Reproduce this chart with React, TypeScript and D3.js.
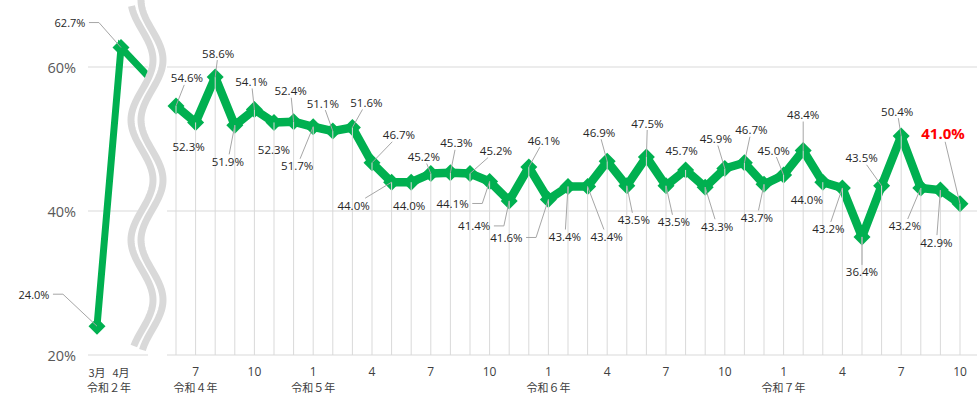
import * as d3 from 'd3';

// 令和２年 (left part, before the break)
const leftCats = ['3月', '4月'];
const leftVals = [24.0, 62.7];
const leftEra = '令和２年';

// 令和４年６月 〜 令和７年１０月
const rightCats = [
  'R4-6', 'R4-7', 'R4-8', 'R4-9', 'R4-10', 'R4-11', 'R4-12',
  'R5-1', 'R5-2', 'R5-3', 'R5-4', 'R5-5', 'R5-6', 'R5-7', 'R5-8', 'R5-9', 'R5-10', 'R5-11', 'R5-12',
  'R6-1', 'R6-2', 'R6-3', 'R6-4', 'R6-5', 'R6-6', 'R6-7', 'R6-8', 'R6-9', 'R6-10', 'R6-11', 'R6-12',
  'R7-1', 'R7-2', 'R7-3', 'R7-4', 'R7-5', 'R7-6', 'R7-7', 'R7-8', 'R7-9', 'R7-10',
];
const rightVals = [
  54.6, 52.3, 58.6, 51.9, 54.1, 52.3, 52.4,
  51.7, 51.1, 51.6, 46.7, 44.0, 44.0, 45.2, 45.3, 45.2, 44.1, 41.4, 46.1,
  41.6, 43.4, 43.4, 46.9, 43.5, 47.5, 43.5, 45.7, 43.3, 45.9, 46.7, 43.7,
  45.0, 48.4, 44.0, 43.2, 36.4, 43.5, 50.4, 43.2, 42.9, 41.0,
];
const eraNames: Record<string, string> = { R4: '令和４年', R5: '令和５年', R6: '令和６年', R7: '令和７年' };
const yTicks = [20, 40, 60];

// label placement: [dx, dy, leader] (0 = none, 1 = straight, 2 = elbow)
const rightLabelPos: [number, number, number][] = [
  [11, -28, 1], [-7, 24, 0], [3, -24, 1], [-7, 36, 1], [-3, -28, 1], [0, 27, 0], [-3, -31, 1],
  [-16, 39, 1], [-10, -28, 1], [14, -25, 1], [27, -28, 1], [-38, 23, 1], [-2, 23, 0], [-7, -17, 1],
  [6, -30, 1], [26, -23, 1], [-37, 22, 2], [-35, 25, 2], [15, -27, 1],
  [-42, 38, 2], [-3, 50, 1], [19, 50, 1], [-8, -29, 1], [7, 34, 1], [1, -34, 1], [8, 36, 1],
  [-4, -19, 0], [12, 39, 1], [-9, -30, 1], [7, -33, 1], [-7, 33, 1],
  [-10, -25, 1], [0, -36, 1], [-16, 17, 0], [-14, 41, 1], [0, 35, 1], [-20, -28, 1],
  [-4, -25, 1], [-16, 38, 1], [-4, 52, 1], [-17, -71, 1],
];
const leftLabelPos: [number, number, number][] = [[-63, -32, 2], [-51, -25, 2]];

const W = 977;
const H = 395;
const GREEN = '#00b050';
const GRID = '#d9d9d9';
const LEADER = '#a6a6a6';
const FONT = '"Open Sans", "Noto Sans", sans-serif';
const JP = '"Noto Sans CJK JP", "Noto Sans", sans-serif';

const y = d3.scaleLinear().domain([20, 60]).range([355, 67]);
const xl = d3.scalePoint<string>().domain(leftCats).range([97, 121]);
const xr = d3.scalePoint<string>().domain(rightCats).range([176, 960]);

const waveX = (yy: number, off: number) => 142 + off - 11 * Math.cos((2 * Math.PI * yy) / 120);

function leader(px: number, py: number, cx: number, cy: number, hw: number, hh: number, kind: number) {
  if (kind === 0) return null;
  if (kind === 2) {
    const sx = cx + hw + 3;
    return `M${sx},${cy}H${sx + 10}L${px},${py}`;
  }
  const dx = px - cx;
  const dy = py - cy;
  const tx = dx === 0 ? Infinity : (hw + 2) / Math.abs(dx);
  const ty = dy === 0 ? Infinity : (hh + 2) / Math.abs(dy);
  const t = Math.min(tx, ty);
  if (t >= 1) return null;
  return `M${cx + dx * t},${cy + dy * t}L${px},${py}`;
}

const diamond = (cx: number, cy: number, r: number) =>
  `M${cx},${cy - r}L${cx + r},${cy}L${cx},${cy + r}L${cx - r},${cy}Z`;

export default function App() {
  const line = d3.line<[number, number]>().x((d) => d[0]).y((d) => d[1]).curve(d3.curveLinear);

  const leftPts: [number, number][] = leftCats.map((c, i) => [xl(c)!, y(leftVals[i])]);
  const rightPts: [number, number][] = rightCats.map((c, i) => [xr(c)!, y(rightVals[i])]);
  // the left series runs on toward the right part and disappears behind the break
  const leftRun: [number, number][] = [...leftPts, rightPts[0]];

  const ys = d3.range(0, 351, 2);
  const wave = (off: number, y0: number, y1: number) =>
    line(ys.filter((v) => v >= y0 && v <= y1).map((v) => [waveX(v, off), v] as [number, number]))!;
  const band =
    line(ys.map((v) => [waveX(v, 0), v] as [number, number]))! +
    'L' +
    ys
      .slice()
      .reverse()
      .map((v) => `${waveX(v, 10)},${v}`)
      .join('L') +
    'Z';
  // everything left of the first wave
  const leftArea =
    'M0,0L' + ys.map((v) => `${waveX(v, 0) - 2},${v}`).join('L') + `L${waveX(350, 0) - 2},${H}L0,${H}Z`;

  // month ticks: 1, 4, 7, 10 ; era label under the first tick of each year
  const seenEra = new Set<string>();
  const ticks = rightCats
    .map((c) => {
      const [era, m] = c.split('-');
      return { c, era, m: +m };
    })
    .filter((d) => d.m % 3 === 1)
    .map((d) => {
      const showEra = !seenEra.has(d.era);
      seenEra.add(d.era);
      return { ...d, showEra };
    });

  const labelW = (s: string, size: number) => s.length * size * 0.29;

  return (
    <svg
      width={W}
      height={H}
      style={{ position: 'absolute', left: 0, top: 0, background: '#fff' }}
    >
      <defs>
        <clipPath id="leftClip">
          <path d={leftArea} />
        </clipPath>
      </defs>

      {/* gridlines */}
      {yTicks.map((t) => (
        <g key={t}>
          <line x1={88} x2={148} y1={y(t)} y2={y(t)} stroke={GRID} strokeWidth={1} />
          <line x1={167} x2={W} y1={y(t)} y2={y(t)} stroke={GRID} strokeWidth={1} />
          <text
            x={76}
            y={y(t)}
            textAnchor="end"
            dominantBaseline="central"
            fontFamily={FONT}
            fontSize={14.5}
            fill="#595959"
          >
            {t}%
          </text>
        </g>
      ))}

      {/* left series */}
      <path
        d={line(leftRun)!}
        fill="none"
        stroke={GREEN}
        strokeWidth={7}
        strokeLinejoin="miter"
        clipPath="url(#leftClip)"
      />

      {/* break */}
      <path d={band} fill="#fff" />
      <path d={wave(0, 5, 346)} fill="none" stroke={GRID} strokeWidth={7} />
      <path d={wave(10, 0, 350)} fill="none" stroke={GRID} strokeWidth={7} />

      {/* right series */}
      <path d={line(rightPts)!} fill="none" stroke={GREEN} strokeWidth={8.5} strokeLinejoin="round" />
      {rightPts.map(([px, py], i) => (
        <path key={i} d={diamond(px, py, 8.5)} fill={GREEN} />
      ))}
      {leftPts.map(([px, py], i) => (
        <path key={i} d={diamond(px, py, 8.5)} fill={GREEN} />
      ))}

      {/* drop lines */}
      {rightPts.map(([px, py], i) => (
        <line key={i} x1={px} x2={px} y1={py} y2={y(20)} stroke={GRID} strokeWidth={1} />
      ))}

      {/* data labels */}
      {rightPts.map(([px, py], i) => {
        const last = i === rightPts.length - 1;
        const [dx, dy, kind] = rightLabelPos[i];
        const txt = rightVals[i].toFixed(1) + '%';
        const size = last ? 15 : 11.5;
        const cx = px + dx;
        const cy = py + dy;
        const hw = last ? 21 : labelW(txt, size);
        const d = leader(px, py, cx, cy, hw, last ? 7 : 5, kind);
        return (
          <g key={i}>
            {d && <path d={d} fill="none" stroke={LEADER} strokeWidth={1} />}
            <text
              x={cx}
              y={cy}
              textAnchor="middle"
              dominantBaseline="central"
              fontFamily={FONT}
              fontSize={size}
              fontWeight={last ? 700 : 400}
              fill={last ? '#ff0000' : '#262626'}
            >
              {txt}
            </text>
          </g>
        );
      })}
      {leftPts.map(([px, py], i) => {
        const [dx, dy, kind] = leftLabelPos[i];
        const txt = leftVals[i].toFixed(1) + '%';
        const cx = px + dx;
        const cy = py + dy;
        const d = leader(px, py, cx, cy, labelW(txt, 11), 5, kind);
        return (
          <g key={i}>
            {d && <path d={d} fill="none" stroke={LEADER} strokeWidth={1} />}
            <text
              x={cx}
              y={cy}
              textAnchor="middle"
              dominantBaseline="central"
              fontFamily={FONT}
              fontSize={11}
              fill="#262626"
            >
              {txt}
            </text>
          </g>
        );
      })}

      {/* x axis */}
      {leftCats.map((c) => (
        <text
          key={c}
          x={xl(c)}
          y={372}
          textAnchor="middle"
          dominantBaseline="central"
          fontFamily={JP}
          fontSize={11}
          fill="#404040"
        >
          {c}
        </text>
      ))}
      <text
        x={(xl(leftCats[0])! + xl(leftCats[1])!) / 2}
        y={387}
        textAnchor="middle"
        dominantBaseline="central"
        fontFamily={JP}
        fontSize={11}
        fill="#404040"
      >
        {leftEra}
      </text>
      {ticks.map((t) => (
        <g key={t.c}>
          <text
            x={xr(t.c)}
            y={371}
            textAnchor="middle"
            dominantBaseline="central"
            fontFamily={FONT}
            fontSize={12}
            fill="#404040"
          >
            {t.m}
          </text>
          {t.showEra && (
            <text
              x={xr(t.c)}
              y={387}
              textAnchor="middle"
              dominantBaseline="central"
              fontFamily={JP}
              fontSize={11}
              fill="#404040"
            >
              {eraNames[t.era]}
            </text>
          )}
        </g>
      ))}
    </svg>
  );
}
